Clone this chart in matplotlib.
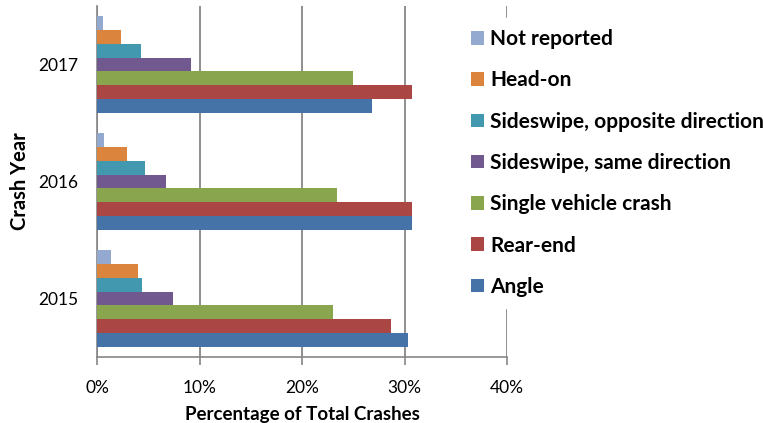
import numpy as np
import matplotlib
matplotlib.use("Agg")
import matplotlib.pyplot as plt

plt.rcParams['font.family'] = ['Lato', 'DejaVu Sans']

years = ['2015', '2016', '2017']
# crash types, bottom bar of each group first
crash_types = ['Angle', 'Rear-end', 'Single vehicle crash', 'Sideswipe, same direction',
               'Sideswipe, opposite direction', 'Head-on', 'Not reported']
colors = ['#4572A7', '#AA4643', '#89A54E', '#71588F', '#4198AF', '#DB843D', '#93A9CF']

# share of total crashes per year (2015, 2016, 2017)
angle = [0.303, 0.307, 0.268]
rear_end = [0.287, 0.307, 0.307]
single_vehicle = [0.230, 0.234, 0.250]
sideswipe_same = [0.074, 0.067, 0.092]
sideswipe_opp = [0.044, 0.047, 0.043]
head_on = [0.040, 0.029, 0.023]
not_reported = [0.014, 0.007, 0.006]

series = [angle, rear_end, single_vehicle, sideswipe_same, sideswipe_opp, head_on, not_reported]

fig = plt.figure(figsize=(7.63, 4.23), dpi=100)
ax = fig.add_axes([97/763, 66/423, 410/763, 351/423])

y = np.arange(len(years))
h = 0.119
for i, (vals, name, c) in enumerate(zip(series, crash_types, colors)):
    ax.barh(y + (i - 3) * h, vals, height=h, color=c, label=name, zorder=3)

ax.set_xlim(0, 0.4)
ax.set_ylim(-0.5, 2.5)
ax.set_xticks([0, 0.1, 0.2, 0.3, 0.4])
ax.set_xticklabels(['0%', '10%', '20%', '30%', '40%'])
ax.set_yticks(y)
ax.set_yticklabels(years)

grey = '#868686'
ax.grid(axis='x', color=grey, linewidth=1.3, zorder=1)
for s in ['top', 'right']:
    ax.spines[s].set_visible(False)
for s in ['left', 'bottom']:
    ax.spines[s].set_color(grey)
    ax.spines[s].set_linewidth(1.2)
ax.tick_params(axis='x', length=6, color=grey, width=1.2, pad=10.5, labelsize=12.5)
ax.tick_params(axis='y', length=0, pad=13.5, labelsize=12.5)

ax.set_xlabel('Percentage of Total Crashes', fontweight='bold', fontsize=13.5, labelpad=7)
ax.set_ylabel('Crash Year', fontweight='bold', fontsize=14.5, labelpad=6)

handles, labels = ax.get_legend_handles_labels()
leg = ax.legend(handles[::-1], labels[::-1], loc='center left',
                bbox_to_anchor=(459/763, 1 - 163/423), bbox_transform=fig.transFigure,
                borderaxespad=0, frameon=True, framealpha=1, edgecolor='white',
                fancybox=False, borderpad=0.56, labelspacing=1.02,
                handlelength=0.63, handleheight=0.63, handletextpad=0.3,
                prop={'weight': 'bold', 'size': 15})
leg.set_zorder(5)

fig.savefig('out.png', dpi=100)
